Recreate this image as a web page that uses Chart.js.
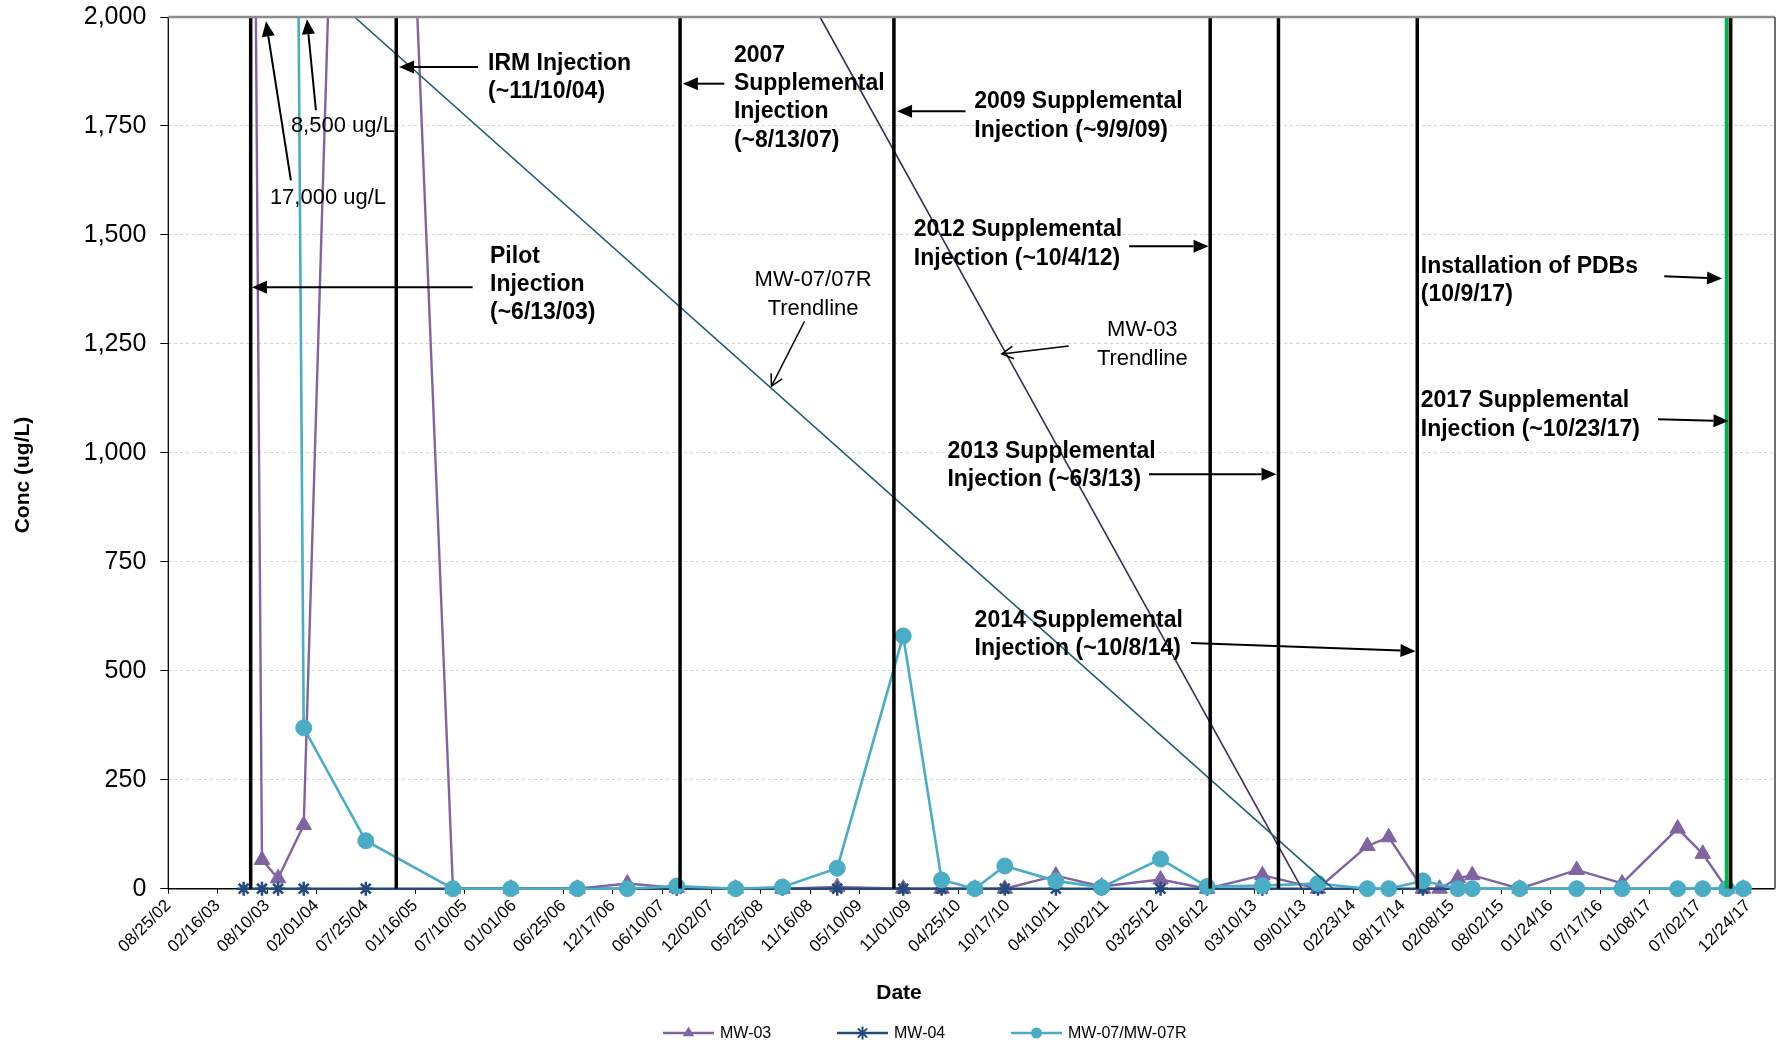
<!DOCTYPE html>
<html>
<head>
<meta charset="utf-8">
<script src="https://cdn.jsdelivr.net/npm/chart.js@4/dist/chart.umd.min.js"></script>
<style>
html,body{margin:0;padding:0;background:#fff;overflow:hidden;}
canvas{display:block;}
</style>
</head>
<body>
<canvas id="c" width="1779" height="1044"></canvas>
<script>
// ---------------- DATA ----------------
const sampleDates = [
 '2003-01-15','2003-05-19','2003-07-23','2003-09-18','2003-12-18','2004-07-25',
 '2005-05-30','2005-12-21','2006-08-14','2007-02-07','2007-08-01','2008-02-26',
 '2008-08-10','2009-02-20','2009-10-12','2010-02-25','2010-06-23','2010-10-07',
 '2011-04-06','2011-09-15','2012-04-11','2012-09-23','2013-04-07','2013-10-21',
 '2014-04-14','2014-06-29','2014-10-28','2014-12-26','2015-03-01','2015-04-21',
 '2015-10-06','2016-04-25','2016-10-03','2017-04-18','2017-07-16','2017-10-09',
 '2017-12-07'
];
const mw03 = [17000,null,66,24,146,4900, 0,0,0,12,2,0, 0,4,0,0,0,0, 30,5,21,0,31,0, 98,118,0,0,24,31, 0,43,12,138,80,0, 0];
const mw04 = [null,0,0,0,0,0, 0,0,0,0,0,0, 0,0,0,0,0,0, 0,0,0,0,0,0, 0,0,0,null,0,0, 0,0,0,0,0,0, 0];
const mw07 = [null,null,null,8500,369,110, 0,0,0,0,6,0, 4,47,580,20,0,52, 18,3,68,5,7,12, 0,0,18,null,0,0, 0,0,0,0,0,0, 0];

const xTickLabels = ['08/25/02','02/16/03','08/10/03','02/01/04','07/25/04','01/16/05','07/10/05','01/01/06',
 '06/25/06','12/17/06','06/10/07','12/02/07','05/25/08','11/16/08','05/10/09','11/01/09','04/25/10','10/17/10',
 '04/10/11','10/02/11','03/25/12','09/16/12','03/10/13','09/01/13','02/23/14','08/17/14','02/08/15','08/02/15',
 '01/24/16','07/17/16','01/08/17','07/02/17','12/24/17'];
const xAxisMax = '03/29/18';
const yTicks = [0,250,500,750,1000,1250,1500,1750,2000];

const injectionDates = ['06/13/03','11/10/04','08/13/07','09/09/09','10/04/12','06/03/13','10/08/14','10/23/17'];
const pdbDates = ['10/09/17'];

const mw07TrendDates = ['2004-06-15','2013-12-13'];
const mw07TrendValues = [2000,0];
const mw03TrendDates = ['2008-12-21','2013-08-25'];
const mw03TrendValues = [2000,0];

// ---------------- HELPERS ----------------
const DAY = 864e5;
function iso(s){const [y,m,d]=s.split('-').map(Number);return Date.UTC(y,m-1,d)/DAY;}
function mdy(s){const [m,d,y]=s.split('/').map(Number);return Date.UTC(2000+y,m-1,d)/DAY;}
function yr(Y){const y=Math.floor(Y);const a=Date.UTC(y,0,1)/DAY,b=Date.UTC(y+1,0,1)/DAY;return a+(Y-y)*(b-a);}
function series(vals){const out=[];sampleDates.forEach((d,i)=>{if(vals[i]!==null)out.push({x:iso(d),y:vals[i]});});return out;}
function vlines(list){const out=[];list.forEach(d=>{const x=mdy(d);out.push({x:x,y:yTicks[0]},{x:x,y:yTicks[yTicks.length-1]},{x:x,y:null});});return out;}

const FONT = '"Liberation Sans", Arial, sans-serif';
const C03='#8064a2', C04='#254a7c', C07='#4bacc6';

// ---------------- ANNOTATIONS (positions in data space: decimal year / conc) ----------------
const notes = [
 {x:2005.749,y:1893,lines:['IRM Injection','(~11/10/04)'],bold:true},
 {x:2003.633,y:1586,lines:['17,000 ug/L'],bold:false},
 {x:2003.837,y:1749,lines:['8,500 ug/L'],bold:false},
 {x:2005.768,y:1451,lines:['Pilot','Injection','(~6/13/03)'],bold:true},
 {x:2008.136,y:1912,lines:['2007','Supplemental','Injection','(~8/13/07)'],bold:true},
 {x:2010.468,y:1805,lines:['2009 Supplemental','Injection (~9/9/09)'],bold:true},
 {x:2009.881,y:1511,lines:['2012 Supplemental','Injection (~10/4/12)'],bold:true},
 {x:2008.903,y:1396,lines:['MW-07/07R','Trendline'],bold:false,center:true,lh:29},
 {x:2012.100,y:1281,lines:['MW-03','Trendline'],bold:false,center:true,lh:29},
 {x:2010.207,y:1003,lines:['2013 Supplemental','Injection (~6/3/13)'],bold:true},
 {x:2010.471,y:615,lines:['2014 Supplemental','Injection (~10/8/14)'],bold:true},
 {x:2014.801,y:1428,lines:['Installation of PDBs','(10/9/17)'],bold:true},
 {x:2014.801,y:1119,lines:['2017 Supplemental','Injection (~10/23/17)'],bold:true}
];
const arrows = [
 {from:[2005.652,1885],to:[2004.885,1885]},
 {from:[2003.837,1625],to:[2003.595,1990]},
 {from:[2004.080,1786],to:[2003.993,1995]},
 {from:[2005.599,1380],to:[2003.459,1380]},
 {from:[2008.043,1847],to:[2007.641,1847]},
 {from:[2010.383,1784],to:[2009.718,1784]},
 {from:[2011.972,1474],to:[2012.741,1474]},
 {from:[2008.820,1302],to:[2008.500,1153],open:true},
 {from:[2011.385,1245],to:[2010.735,1227],open:true},
 {from:[2012.164,951],to:[2013.400,951]},
 {from:[2012.571,564],to:[2014.750,545]},
 {from:[2017.163,1405],to:[2017.724,1400]},
 {from:[2017.102,1077],to:[2017.787,1073]}
];

function drawMarker(ctx,style,cx,cy,r,color){
  ctx.save();ctx.fillStyle=color;ctx.strokeStyle=color;ctx.lineWidth=2;
  ctx.beginPath();
  if(style==='triangle'){
    for(let k=0;k<3;k++){const a=-Math.PI/2+k*2*Math.PI/3;const px=cx+r*Math.cos(a),py=cy+r*Math.sin(a);k?ctx.lineTo(px,py):ctx.moveTo(px,py);}
    ctx.closePath();ctx.fill();
  }else if(style==='circle'){
    ctx.arc(cx,cy,r,0,Math.PI*2);ctx.fill();
  }else{
    for(let k=0;k<4;k++){const a=k*Math.PI/4;ctx.moveTo(cx+r*Math.cos(a),cy+r*Math.sin(a));ctx.lineTo(cx-r*Math.cos(a),cy-r*Math.sin(a));}
    ctx.stroke();
  }
  ctx.restore();
}

const framePlugin = {
  id:'frame',
  beforeDatasetsDraw(chart){
    const {ctx,chartArea:a}=chart;ctx.save();
    ctx.strokeStyle='#000';ctx.lineWidth=1.3;
    ctx.beginPath();ctx.moveTo(a.left,a.top);ctx.lineTo(a.left,a.bottom);ctx.stroke();
    ctx.lineWidth=1.6;ctx.beginPath();ctx.moveTo(a.left-1,a.bottom);ctx.lineTo(a.right,a.bottom);ctx.stroke();
    ctx.restore();
  },
  afterDatasetsDraw(chart){
    const {ctx,chartArea:a,scales}=chart;const xs=scales.x,ys=scales.y;
    ctx.save();
    ctx.strokeStyle='#8c8c8c';ctx.lineWidth=2.5;
    ctx.beginPath();ctx.moveTo(a.left,a.top);ctx.lineTo(a.right,a.top);ctx.stroke();
    ctx.strokeStyle='#6f6f6f';ctx.lineWidth=2;
    ctx.beginPath();ctx.moveTo(a.right,a.top);ctx.lineTo(a.right,a.bottom);ctx.stroke();
    ctx.fillStyle='#000';ctx.textBaseline='middle';
    notes.forEach(n=>{
      ctx.font=(n.bold?'bold 23px ':'22px ')+FONT;
      ctx.textAlign=n.center?'center':'left';
      const px=xs.getPixelForValue(yr(n.x)),py=ys.getPixelForValue(n.y);
      const lh=n.lh||28.4;
      n.lines.forEach((t,i)=>ctx.fillText(t,px,py+i*lh));
    });
    ctx.strokeStyle='#000';ctx.fillStyle='#000';ctx.lineWidth=2;
    arrows.forEach(ar=>{
      const x1=xs.getPixelForValue(yr(ar.from[0])),y1=ys.getPixelForValue(ar.from[1]);
      const x2=xs.getPixelForValue(yr(ar.to[0])),y2=ys.getPixelForValue(ar.to[1]);
      const ang=Math.atan2(y2-y1,x2-x1);
      if(ar.open){
        ctx.lineWidth=1.5;
        ctx.beginPath();ctx.moveTo(x1,y1);ctx.lineTo(x2,y2);ctx.stroke();
        const L=13,s=0.5;
        ctx.beginPath();
        ctx.moveTo(x2-L*Math.cos(ang-s),y2-L*Math.sin(ang-s));ctx.lineTo(x2,y2);
        ctx.lineTo(x2-L*Math.cos(ang+s),y2-L*Math.sin(ang+s));ctx.stroke();
        ctx.lineWidth=2;
      }else{
        const L=15,W=6.5;
        const bx=x2-L*Math.cos(ang),by=y2-L*Math.sin(ang);
        ctx.beginPath();ctx.moveTo(x1,y1);ctx.lineTo(bx,by);ctx.stroke();
        ctx.beginPath();ctx.moveTo(x2,y2);
        ctx.lineTo(bx+W*Math.sin(ang),by-W*Math.cos(ang));
        ctx.lineTo(bx-W*Math.sin(ang),by+W*Math.cos(ang));ctx.closePath();ctx.fill();
      }
    });
    ctx.restore();
  },
  afterDraw(chart){
    const {ctx}=chart;ctx.save();
    ctx.fillStyle='#000';ctx.textAlign='center';ctx.textBaseline='middle';
    ctx.font='bold 21px '+FONT;
    ctx.fillText('Date',899,993);
    ctx.translate(23,475);ctx.rotate(-Math.PI/2);ctx.fillText('Conc (ug/L)',0,0);
    ctx.restore();
    ctx.save();
    const legX=[663,837,1011];
    chart.data.datasets.filter(ds=>ds.legendIndex!==undefined)
      .sort((p,q)=>p.legendIndex-q.legendIndex)
      .forEach((ds,k)=>{
      const x=legX[k],y=1033;
      ctx.strokeStyle=ds.borderColor;ctx.lineWidth=2.5;
      ctx.beginPath();ctx.moveTo(x,y);ctx.lineTo(x+51,y);ctx.stroke();
      drawMarker(ctx,ds.pointStyle,x+25.5,y,ds.pointStyle==='circle'?5.5:6.5,ds.borderColor);
      ctx.fillStyle='#000';ctx.font='16px '+FONT;ctx.textAlign='left';ctx.textBaseline='middle';
      ctx.fillText(ds.label,x+57,y+1);
    });
    ctx.restore();
  }
};

const clipTop = {left:false,top:0,right:false,bottom:false};

new Chart(document.getElementById('c'),{
  type:'line',
  data:{datasets:[
    {label:'injections',data:vlines(injectionDates),borderColor:'#000',borderWidth:3.5,pointRadius:0,spanGaps:false,borderCapStyle:'butt'},
    {label:'pdb',data:vlines(pdbDates),borderColor:'#00b050',borderWidth:4,pointRadius:0,spanGaps:false},
    {label:'MW-07 trend',data:mw07TrendDates.map((d,i)=>({x:iso(d),y:mw07TrendValues[i]})),borderColor:'#1f5f6e',borderWidth:1.6,pointRadius:0,clip:clipTop},
    {label:'MW-03 trend',data:mw03TrendDates.map((d,i)=>({x:iso(d),y:mw03TrendValues[i]})),borderColor:'#3d2c5a',borderWidth:1.6,pointRadius:0,clip:clipTop},
    {label:'MW-07/MW-07R',legendIndex:2,data:series(mw07),borderColor:C07,backgroundColor:C07,borderWidth:2.6,pointStyle:'circle',pointRadius:8,pointBorderWidth:1,pointBackgroundColor:C07,pointBorderColor:C07,clip:clipTop},
    {label:'MW-04',legendIndex:1,data:series(mw04),borderColor:C04,backgroundColor:C04,borderWidth:2.6,pointStyle:'star',pointRadius:7,pointBorderWidth:2.5,pointBorderColor:C04,clip:clipTop},
    {label:'MW-03',legendIndex:0,data:series(mw03),borderColor:C03,backgroundColor:C03,borderWidth:2.4,pointStyle:'triangle',pointRadius:9,pointBorderWidth:1,pointBackgroundColor:C03,pointBorderColor:C03,clip:clipTop}
  ]},
  options:{
    responsive:false,animation:false,devicePixelRatio:1,
    layout:{autoPadding:false,padding:{left:0,right:4,top:17,bottom:0}},
    plugins:{legend:{display:false},tooltip:{enabled:false}},
    elements:{line:{tension:0}},
    scales:{
      x:{type:'linear',min:mdy(xTickLabels[0]),max:mdy(xAxisMax),
        afterBuildTicks:s=>{s.ticks=xTickLabels.map(l=>({value:mdy(l)}));},
        afterFit:s=>{s.height=155.3;s.paddingLeft=0;s.paddingRight=0;},
        grid:{drawOnChartArea:false,drawTicks:true,tickLength:5,color:'#000',tickColor:'#000'},
        border:{display:false},
        ticks:{autoSkip:false,maxRotation:45,minRotation:45,padding:2,color:'#000',font:{family:FONT,size:17},
          callback:(v,i)=>xTickLabels[i]}
      },
      y:{min:yTicks[0],max:yTicks[yTicks.length-1],
        afterBuildTicks:s=>{s.ticks=yTicks.map(v=>({value:v}));},
        afterFit:s=>{s.width=168.3;s.paddingTop=0;s.paddingBottom=0;},
        grid:{color:(c)=>c.tick&&c.tick.value===0?'rgba(0,0,0,0)':'#d4d4d4',lineWidth:1,tickLength:8,tickColor:'#000',tickBorderDash:[],drawTicks:true},
        border:{display:false,dash:[3,3]},
        ticks:{padding:14,color:'#000',font:{family:FONT,size:25},callback:v=>v.toLocaleString('en-US')}
      }
    }
  },
  plugins:[framePlugin]
});
</script>
</body>
</html>
